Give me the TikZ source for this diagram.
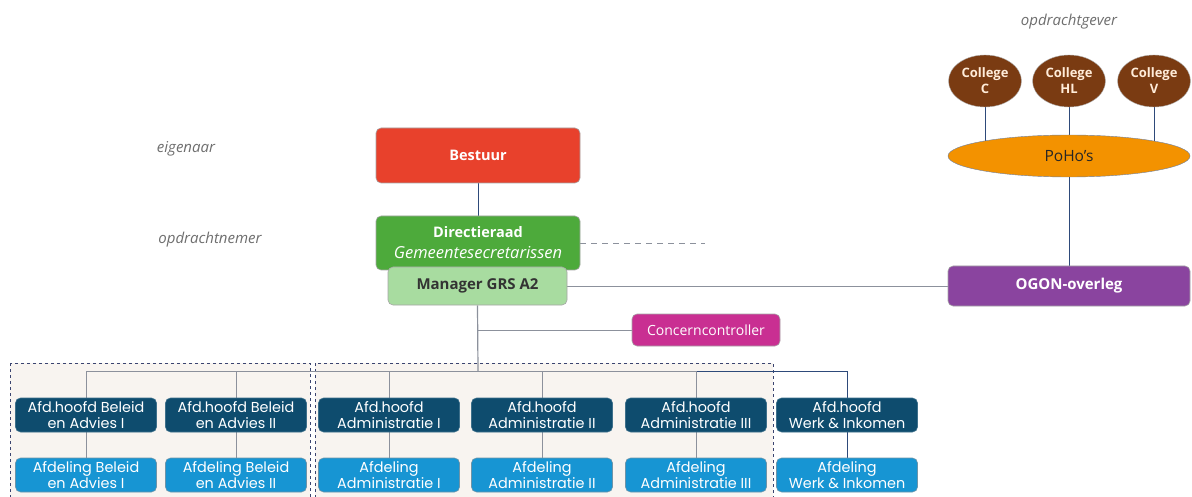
\documentclass[tikz,border=0pt]{standalone}
\usepackage{fontspec}
\setmainfont{Open Sans}
\newfontfamily\botf{Poppins}
\usetikzlibrary{shapes.geometric,backgrounds}
\definecolor{cred}{HTML}{E8412C}
\definecolor{cgreen}{HTML}{4DAA3B}
\definecolor{clgreen}{HTML}{A8DCA0}
\definecolor{cnavy}{HTML}{0E4C6E}
\definecolor{cblue}{HTML}{1795D3}
\definecolor{cmag}{HTML}{C92F92}
\definecolor{cpurple}{HTML}{8A449F}
\definecolor{corange}{HTML}{F39200}
\definecolor{cbrown}{HTML}{7A3B12}
\definecolor{cbeige}{HTML}{F8F4F0}
\definecolor{cline}{HTML}{8C919C}
\definecolor{cdark}{HTML}{2E4A7A}
\definecolor{clabel}{HTML}{6E6E6E}
\definecolor{cgroup}{HTML}{3A4470}
\tikzset{
  box/.style={draw=gray!70, rounded corners=5pt, inner sep=1pt, align=center, line width=0.6pt},
  topbox/.style={box, minimum width=204pt, minimum height=55pt},
  head/.style={box, fill=cnavy, text=white, minimum width=141pt, minimum height=34pt, font=\botf\fontsize{14.4}{16}\selectfont, draw=cnavy!80},
  dept/.style={box, fill=cblue, text=white, minimum width=141pt, minimum height=34pt, font=\botf\fontsize{14.4}{16}\selectfont, draw=cnavy!60},
  college/.style={ellipse, draw=gray!60, fill=cbrown, text=orange!15, minimum width=73pt, minimum height=52pt, inner sep=0pt, align=center, font=\bfseries\fontsize{13}{16}\selectfont},
  conn/.style={draw=cline, line width=0.8pt},
  dconn/.style={draw=cdark, line width=0.8pt},
  lbl/.style={text=clabel, font=\itshape\fontsize{15}{18}\selectfont},
  grp/.style={draw=cgroup, dashed, line width=0.8pt, fill=cbeige}
}
\begin{document}
\begin{tikzpicture}[x=1pt,y=-1pt]
\clip (0,0) rectangle (1192,497);
% labels
\node[lbl] (l1) at (186,149) {eigenaar};
\node[lbl] (l2) at (210,240) {opdrachtnemer};
\node[lbl] (l3) at (1069,22) {opdrachtgever};
% top boxes
\node[topbox, fill=cred, text=white, font=\bfseries\fontsize{14.5}{17}\selectfont] (bes) at (478,155.5) {Bestuur};
\node[topbox, fill=cgreen, text=white, minimum height=54pt, font=\fontsize{14.5}{21}\selectfont] (dir) at (478,243) {\textbf{Directieraad}\\\textit{\fontsize{16.5}{21}\selectfont Gemeentesecretarissen}};
\node[box, fill=clgreen, text=black!80, minimum width=179pt, minimum height=38pt, font=\bfseries\fontsize{15}{18}\selectfont] (mgr) at (477.5,286) {Manager GRS A2};
\node[box, fill=cmag, text=white, minimum width=148pt, minimum height=32pt, font=\fontsize{14}{16}\selectfont] (cc) at (706,330) {Concerncontroller};
\node[box, fill=cpurple, text=white, minimum width=242pt, minimum height=40pt, font=\bfseries\fontsize{15}{18}\selectfont] (ogon) at (1069,286) {OGON-overleg};
\node[ellipse, draw=cdark!70, fill=corange, text=black!85, minimum width=242pt, minimum height=42pt, font=\fontsize{15.5}{18}\selectfont] (poho) at (1069,156) {PoHo's};
\node[college] (cC) at (985,81) {College\\C};
\node[college] (cHL) at (1069,81) {College\\HL};
\node[college] (cV) at (1154,81) {College\\V};
% bottom boxes
\node[head] (h1) at (86,415) {Afd.hoofd Beleid\\en Advies I};
\node[head] (h2) at (236,415) {Afd.hoofd Beleid\\en Advies II};
\node[head] (h3) at (389,415) {Afd.hoofd\\Administratie I};
\node[head] (h4) at (542,415) {Afd.hoofd\\Administratie II};
\node[head] (h5) at (696,415) {Afd.hoofd\\Administratie III};
\node[head] (h6) at (847,415) {Afd.hoofd\\Werk \& Inkomen};
\node[dept] (d1) at (86,475) {Afdeling Beleid\\en Advies I};
\node[dept] (d2) at (236,475) {Afdeling Beleid\\en Advies II};
\node[dept] (d3) at (389,475) {Afdeling\\Administratie I};
\node[dept] (d4) at (542,475) {Afdeling\\Administratie II};
\node[dept] (d5) at (696,475) {Afdeling\\Administratie III};
\node[dept] (d6) at (847,475) {Afdeling\\Werk \& Inkomen};
\coordinate (bus) at (478,371);
\coordinate (dashend) at (705,243);
\begin{scope}[on background layer]
\fill[white] (0,0) rectangle (1192,497);
\draw[grp] (10,363) rectangle (310,505);
\draw[grp] (315,363) rectangle (773,505);
\draw[dconn] (bes.south) -- (dir.north);
\draw[cline, line width=0.8pt, dash pattern=on 6pt off 5pt] (dir.east) -- (dashend);
\draw[conn] (mgr.east) -- (ogon.west);
\draw[conn, line width=1.2pt] (mgr.south) -- (bus);
\draw[conn] (mgr.south |- cc.west) -- (cc.west);
\draw[dconn] (cC.south) -- (cC.south |- poho.center);
\draw[dconn] (cHL.south) -- (cHL.south |- poho.center);
\draw[dconn] (cV.south) -- (cV.south |- poho.center);
\draw[dconn] (poho.south) -- (ogon.north);
\draw[conn] (h1.north |- bus) -- (h5.north |- bus);
\draw[dconn] (h5.north |- bus) -- (h6.north |- bus);
\foreach \i in {1,...,5}{
  \draw[conn] (h\i.north |- bus) -- (h\i.north);
  \draw[conn] (h\i.south) -- (d\i.north);
}
\draw[dconn] (h6.north |- bus) -- (h6.north);
\draw[dconn] (h6.south) -- (d6.north);
\end{scope}
\end{tikzpicture}
\end{document}
